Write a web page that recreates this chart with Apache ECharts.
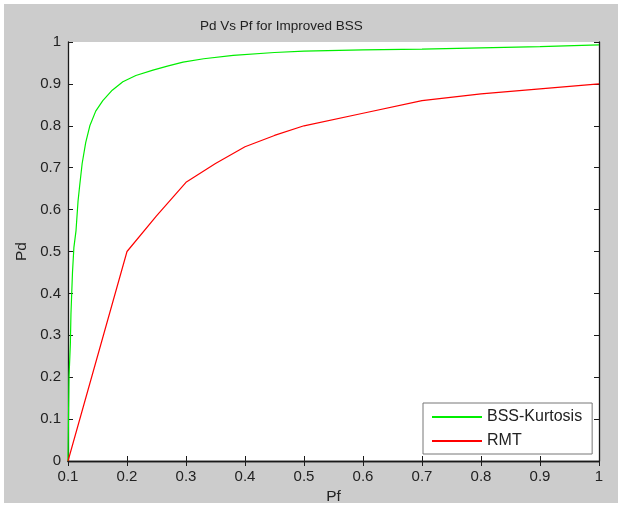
<!DOCTYPE html>
<html>
<head>
<meta charset="utf-8">
<script src="https://cdn.jsdelivr.net/npm/echarts@6/dist/echarts.min.js"></script>
<style>
html,body{margin:0;padding:0;background:#ffffff;}
#chart{position:absolute;left:4px;top:4px;width:614px;height:499px;}
</style>
</head>
<body>
<div id="chart"></div>
<script>
const titleText = 'Pd Vs Pf for Improved BSS';
const xName = 'Pf';
const yName = 'Pd';
const seriesNames = ['BSS-Kurtosis', 'RMT'];

const pfBss = [0.1, 0.1008, 0.1017, 0.104, 0.105, 0.1076, 0.110, 0.1136, 0.117, 0.120, 0.124, 0.130, 0.137, 0.147, 0.159, 0.175, 0.193, 0.215, 0.244, 0.27, 0.295, 0.33, 0.38, 0.45, 0.5, 0.6, 0.7, 0.8, 0.9, 1.0];
const pdBss = [0, 0.1, 0.2, 0.28, 0.35, 0.45, 0.51, 0.55, 0.62, 0.66, 0.71, 0.76, 0.80, 0.835, 0.86, 0.885, 0.905, 0.92, 0.933, 0.943, 0.952, 0.96, 0.968, 0.975, 0.978, 0.981, 0.983, 0.986, 0.989, 0.993];

const pfRmt = [0.1, 0.15, 0.2, 0.25, 0.3, 0.35, 0.4, 0.45, 0.5, 0.6, 0.7, 0.8, 0.9, 1.0];
const pdRmt = [0, 0.25, 0.5, 0.585, 0.665, 0.71, 0.75, 0.777, 0.8, 0.83, 0.86, 0.876, 0.888, 0.9];

const zip = (a, b) => a.map((v, i) => [v, b[i]]);

const font = 'Liberation Sans, Arial, Helvetica, sans-serif';
const axisColor = '#1a1a1a';
const labelColor = '#222';

const chart = echarts.init(document.getElementById('chart'), null, {renderer: 'canvas'});
const fmt1 = v => String(+v.toFixed(1));

chart.setOption({
  backgroundColor: '#cccccc',
  animation: false,
  title: {
    text: titleText,
    left: 191,
    top: 10,
    textStyle: {fontFamily: font, fontSize: 13.5, fontWeight: 'normal', color: '#222'}
  },
  grid: {left: 64, top: 38, right: 19, bottom: 42, show: true, backgroundColor: '#ffffff', borderWidth: 0, outerBoundsMode: 'none', containLabel: false},
  legend: {
    left: 419, top: 399,
    orient: 'vertical',
    backgroundColor: '#ffffff',
    borderColor: '#777',
    borderWidth: 1,
    borderRadius: 0,
    padding: [5, 10, 4, 9],
    itemGap: 6,
    itemWidth: 50,
    itemHeight: 2,
    icon: 'rect',
    textStyle: {fontFamily: font, fontSize: 16, color: '#222', lineHeight: 18, padding: [0, 0, 0, 0]},
    data: seriesNames
  },
  xAxis: [{
    type: 'value', min: 0.1, max: 1, interval: 0.1, position: 'bottom',
    name: xName, nameLocation: 'middle', nameGap: 27,
    nameTextStyle: {fontFamily: font, fontSize: 15.5, color: labelColor},
    axisLine: {show: true, lineStyle: {color: axisColor, width: 1.3}},
    axisTick: {show: true, inside: true, length: 5, lineStyle: {color: axisColor}},
    axisLabel: {formatter: fmt1, fontFamily: font, fontSize: 15, color: labelColor, margin: 8},
    splitLine: {show: false}
  }, {
    type: 'value', min: 0.1, max: 1, interval: 0.1, position: 'top',
    axisLine: {show: true, lineStyle: {color: axisColor, width: 1.3}},
    axisTick: {show: true, inside: true, length: 5, lineStyle: {color: axisColor}},
    axisLabel: {show: false},
    splitLine: {show: false}
  }],
  yAxis: [{
    type: 'value', min: 0, max: 1, interval: 0.1, position: 'left',
    name: yName, nameLocation: 'middle', nameGap: 37, nameRotate: 90,
    nameTextStyle: {fontFamily: font, fontSize: 15.5, color: labelColor},
    axisLine: {show: true, lineStyle: {color: axisColor, width: 1.3}},
    axisTick: {show: true, inside: true, length: 5, lineStyle: {color: axisColor}},
    axisLabel: {formatter: fmt1, fontFamily: font, fontSize: 15, color: labelColor, margin: 7},
    splitLine: {show: false}
  }, {
    type: 'value', min: 0, max: 1, interval: 0.1, position: 'right',
    axisLine: {show: true, lineStyle: {color: axisColor, width: 1.3}},
    axisTick: {show: true, inside: true, length: 5, lineStyle: {color: axisColor}},
    axisLabel: {show: false},
    splitLine: {show: false}
  }],
  series: [{
    name: seriesNames[0], type: 'line', xAxisIndex: 0, yAxisIndex: 0,
    data: zip(pfBss, pdBss), showSymbol: false, symbol: 'none',
    lineStyle: {color: '#00ee00', width: 1.2}, itemStyle: {color: '#00ee00'}
  }, {
    name: seriesNames[1], type: 'line', xAxisIndex: 0, yAxisIndex: 0,
    data: zip(pfRmt, pdRmt), showSymbol: false, symbol: 'none',
    lineStyle: {color: '#ff0000', width: 1.2}, itemStyle: {color: '#ff0000'}
  }]
});
</script>
</body>
</html>
